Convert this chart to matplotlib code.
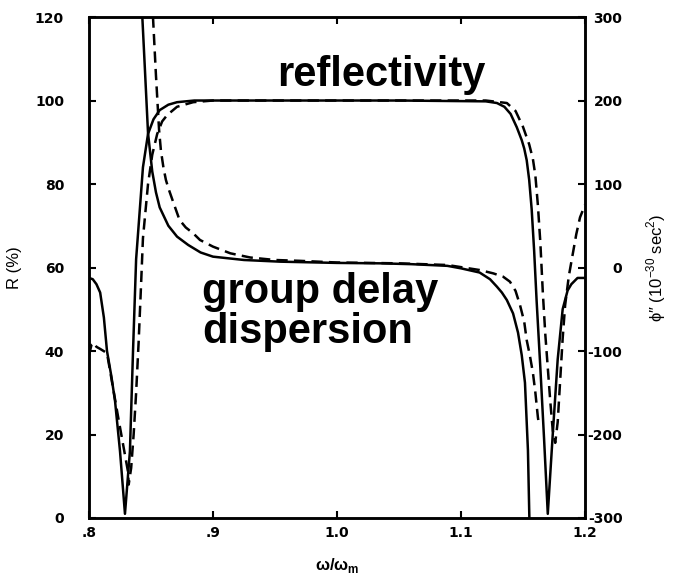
import matplotlib.pyplot as plt

# reflectivity (%), solid and dashed curves
r_solid_x = [0.800, 0.803, 0.806, 0.809, 0.812, 0.8145, 0.818, 0.821, 0.825, 0.829,
             0.833, 0.8355, 0.838, 0.8395, 0.8435, 0.8476, 0.852, 0.857, 0.864, 0.871,
             0.885, 0.950, 1.050, 1.120, 1.129, 1.135, 1.140, 1.145, 1.149, 1.151,
             1.153, 1.155, 1.157, 1.159, 1.161, 1.164, 1.167, 1.170, 1.174, 1.178,
             1.182, 1.186, 1.189, 1.194, 1.200]
r_solid_y = [57.5, 57.2, 56, 54, 48, 40, 34, 28, 16, 1,
             16, 40, 62, 68, 84, 92, 95.5, 97.7, 99, 99.6,
             100, 100, 100, 99.8, 99.4, 98.5, 96.8, 93.6, 90.5, 88.5,
             85.7, 81, 74, 64, 52, 36, 19, 1, 20, 38,
             50, 54.5, 56, 57.5, 57.5]

r_dash_x = [0.800, 0.802, 0.804, 0.806, 0.809, 0.8145, 0.823, 0.8315, 0.832, 0.834,
            0.836, 0.838, 0.840, 0.842, 0.8435, 0.8476, 0.851, 0.855, 0.859, 0.863,
            0.871, 0.884, 0.900, 1.100, 1.120, 1.137, 1.144, 1.150, 1.155, 1.158,
            1.160, 1.162, 1.164, 1.166, 1.168, 1.170, 1.172, 1.174, 1.176, 1.178,
            1.180, 1.182, 1.184, 1.187, 1.190, 1.193, 1.196, 1.200]
r_dash_y = [39, 41.5, 42, 41, 40.5, 39.5, 25, 11, 8, 12,
            20, 30, 42, 56, 67, 80, 87, 92, 95, 96.5,
            98.5, 99.6, 100, 100, 100, 99.4, 97.5, 93.7, 89.5, 86,
            82, 75, 66, 54, 44, 36, 28, 21, 18, 23,
            33, 43, 51, 58, 63, 68, 72, 75]

# group delay dispersion (1e-30 s^2)
g_solid_x = [0.842, 0.843, 0.845, 0.8476, 0.851, 0.854, 0.857, 0.864, 0.871, 0.880,
             0.890, 0.900, 0.925, 0.954, 1.000, 1.035, 1.060, 1.089, 1.100, 1.115,
             1.1234, 1.129, 1.133, 1.137, 1.142, 1.146, 1.149, 1.1516, 1.154, 1.155,
             1.1556]
g_solid_y = [330, 300, 240, 161, 115, 90, 72, 50, 37, 27,
             18, 13, 9, 7, 5.5, 5, 4, 2, -1, -6,
             -14, -23, -30, -39, -55, -78, -105, -138, -219, -290,
             -330]

g_dash_x = [0.851, 0.8516, 0.854, 0.8565, 0.858, 0.860, 0.862, 0.864, 0.868, 0.873,
            0.878, 0.884, 0.8895, 0.900, 0.914, 0.930, 0.950, 0.970, 1.000, 1.050,
            1.089, 1.115, 1.126, 1.134, 1.1395, 1.144, 1.1476, 1.151, 1.153, 1.1555,
            1.158, 1.160, 1.162, 1.163]
g_dash_y = [330, 300, 230, 165, 140, 120, 105, 95, 78, 57,
            48, 41, 33, 25, 17, 12, 9, 8, 6, 5,
            3, -3, -7, -11, -17, -28, -45, -65, -87, -105,
            -126, -150, -179, -190]

x_ticks = [0.8, 0.9, 1.0, 1.1, 1.2]
x_labels = ['.8', '.9', '1.0', '1.1', '1.2']
r_ticks = [0, 20, 40, 60, 80, 100, 120]
g_ticks = [-300, -200, -100, 0, 100, 200, 300]
g_labels = ['-300', '-200', '-100', '0', '100', '200', '300']

plt.rcParams['font.family'] = ['Liberation Sans', 'DejaVu Sans']

fig = plt.figure(figsize=(6.81, 5.83), dpi=100)
ax = fig.add_axes([0.1307, 0.1115, 0.7283, 0.8593])
ax2 = ax.twinx()

lw = 1.8
ax.plot(r_solid_x, r_solid_y, c='black', lw=lw)
ax.plot(r_dash_x, r_dash_y, c='black', lw=lw, ls=(0, (4.5, 2.5)))
ax2.plot(g_solid_x, g_solid_y, c='black', lw=lw)
ax2.plot(g_dash_x, g_dash_y, c='black', lw=lw, ls=(0, (4.5, 2.5)))

ax.set_xlim(0.8, 1.2)
ax.set_ylim(0, 120)
ax2.set_ylim(-300, 300)

for a in (ax, ax2):
    for s in a.spines.values():
        s.set_linewidth(1.8)

ax.set_xticks(x_ticks)
ax.set_xticklabels(x_labels, fontweight='bold', fontsize=10, family='DejaVu Sans')
ax.set_yticks(r_ticks)
ax.set_yticklabels([str(v) for v in r_ticks], fontweight='bold', fontsize=10, family='DejaVu Sans')
ax.tick_params(axis='x', direction='in', length=5, width=1.5, pad=6, top=True)
ax.tick_params(axis='y', direction='in', length=5, width=1.5, pad=18)

ax2.set_yticks(g_ticks)
ax2.set_yticklabels(g_labels, fontweight='bold', fontsize=10, family='DejaVu Sans', ha='right')
ax2.tick_params(axis='y', direction='in', length=5, width=1.5, pad=27)

ax.set_ylabel('R (%)', fontsize=12, labelpad=9)
ax.set_xlabel('ω/ω$_\\mathregular{m}$', fontsize=12, fontweight='bold', labelpad=11)
ax2.set_ylabel('ϕ″ (10$^{\\mathregular{-30}}$ sec$^{\\mathregular{2}}$)', fontsize=12, labelpad=16)

ax.text(0.379, 0.862, 'reflectivity', transform=ax.transAxes, fontsize=30,
        fontweight='bold', ha='left', va='baseline')
ax.text(0.228, 0.429, 'group delay', transform=ax.transAxes, fontsize=30,
        fontweight='bold', ha='left', va='baseline')
ax.text(0.228, 0.349, 'dispersion', transform=ax.transAxes, fontsize=30,
        fontweight='bold', ha='left', va='baseline')

fig.savefig('out.png', dpi=100)
